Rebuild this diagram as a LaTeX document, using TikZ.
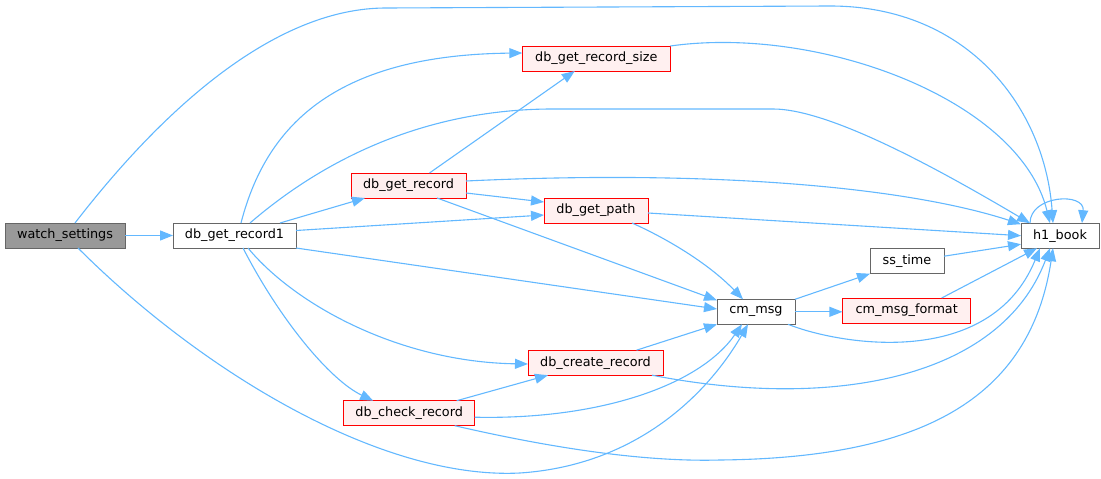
\documentclass[tikz,border=0pt]{standalone}
\usepackage{fontspec}
\setmainfont{DejaVu Sans}
\usetikzlibrary{arrows.meta}
\definecolor{edgec}{HTML}{63B8FF}
\definecolor{redfill}{HTML}{FFF0F0}
\definecolor{grayfill}{HTML}{999999}
\definecolor{grayline}{HTML}{666666}
\tikzset{
  fn/.style={draw=grayline, fill=white, line width=1pt, minimum height=25pt, inner sep=0pt, outer sep=0pt,
    font=\fontsize{12.8}{15}\selectfont, text=black},
  redfn/.style={fn, draw=red, fill=redfill},
  curfn/.style={fn, draw=grayline, fill=grayfill},
  edge/.style={draw=edgec, line width=1.1pt, -{Triangle[length=13pt,width=10pt]}}
}
\begin{document}
\begin{tikzpicture}[x=1pt,y=-1pt]
\useasboundingbox (0,0) rectangle (1101,479);
% nodes
\node[curfn, minimum width=120pt] (ws) at (65,235.5) {watch\_settings};
\node[fn, minimum width=123pt] (r1) at (234.5,235.5) {db\_get\_record1};
\node[redfn, minimum width=115pt] (rec) at (408.5,185.5) {db\_get\_record};
\node[redfn, minimum width=148pt] (rs) at (596.3,58.5) {db\_get\_record\_size};
\node[redfn, minimum width=104pt] (path) at (596,210.5) {db\_get\_path};
\node[redfn, minimum width=135pt] (cr) at (595.5,362.7) {db\_create\_record};
\node[redfn, minimum width=131pt] (ck) at (409.2,413.2) {db\_check\_record};
\node[fn, minimum width=78pt] (cm) at (756,311.8) {cm\_msg};
\node[fn, minimum width=74pt] (ss) at (907,261.2) {ss\_time};
\node[redfn, minimum width=128.5pt] (cmf) at (906.7,310.5) {cm\_msg\_format};
\node[fn, minimum width=78pt] (h1) at (1060,235.7) {h1\_book};
% edges
\draw[edge] (ws.east) -- (r1.west);
\draw[edge] ([xshift=10pt]ws.north) .. controls (170,100) and (280,8) .. (386,8) -- (830,6) .. controls (970,6) and (1045,110) .. ([xshift=-7pt]h1.north);
\draw[edge] ([xshift=13pt]ws.south) .. controls (200,370) and (380,480) .. (520,473) .. controls (640,465) and (710,390) .. ([xshift=-8pt]cm.south);
\draw[edge] ([xshift=6.5pt]r1.north) .. controls (265,130) and (330,55) .. ([yshift=5.5pt]rs.west);
\draw[edge] ([xshift=15.5pt]r1.north) .. controls (300,180) and (400,110) .. (550,109) -- (773,109) .. controls (830,109) and (940,170) .. ([xshift=9pt]h1.north west);
\draw[edge] ([xshift=45.5pt]r1.north) -- ([xshift=14pt]rec.south west);
\draw[edge] ([yshift=5pt]r1.east) -- ([yshift=-4.5pt]path.west);
\draw[edge] (r1.south east) -- ([yshift=2.8pt]cm.west);
\draw[edge] ([xshift=13.5pt]r1.south) .. controls (295,305) and (400,362) .. ([yshift=-1.3pt]cr.west);
\draw[edge] ([xshift=8.5pt]r1.south) .. controls (280,320) and (330,380) .. ([xshift=-36pt]ck.north);
\draw[edge] ([xshift=21pt]rec.north) -- ([xshift=52.5pt]rs.south west);
\draw[edge] ([yshift=4.5pt]rec.east) .. controls (700,170) and (900,185) .. ([yshift=-1pt]h1.north west);
\draw[edge] ([yshift=-7.5pt]rec.east) -- ([yshift=8.5pt]path.west);
\draw[edge] ([xshift=28.5pt]rec.south) -- ([yshift=-1pt]cm.north west);
\draw[edge] (rs.north east) .. controls (820,25) and (1020,100) .. ([xshift=-10pt]h1.north);
\draw[edge] ([yshift=-2.5pt]path.east) -- (h1.west);
\draw[edge] ([xshift=-16pt]path.south east) .. controls (670,240) and (710,265) .. ([xshift=-13pt]cm.north);
\draw[edge] (cm.north east) -- (ss.south west);
\draw[edge] (cm.east) -- (cm.east -| cmf.west);
\draw[edge] ([xshift=-7pt]cm.south east) .. controls (840,345) and (990,370) .. ([xshift=-20pt]h1.south);
\draw[edge] ([yshift=5pt]ss.east) -- ([yshift=-8.5pt]h1.west);
\draw[edge] ([xshift=35pt]cmf.north) -- ([xshift=16pt]h1.south west);
\draw[edge] ([xshift=41pt]cr.north) -- (cm.south west);
\draw[edge] ([xshift=-11pt]cr.south east) .. controls (830,410) and (1000,380) .. ([xshift=-10pt]h1.south);
\draw[edge] ([xshift=-18pt]ck.north east) -- ([xshift=20pt]cr.south west);
\draw[edge] ([yshift=-4pt]ck.east) .. controls (600,420) and (700,385) .. ([xshift=-14pt]cm.south);
\draw[edge] ([xshift=-20pt]ck.south east) .. controls (560,450) and (650,462) .. (720,460) .. controls (920,458) and (1030,400) .. ([xshift=-7pt]h1.south);
\draw[edge] ([xshift=-30pt]h1.north) .. controls (1030,195) and (1085,192) .. ([xshift=22pt]h1.north);
\end{tikzpicture}
\end{document}
